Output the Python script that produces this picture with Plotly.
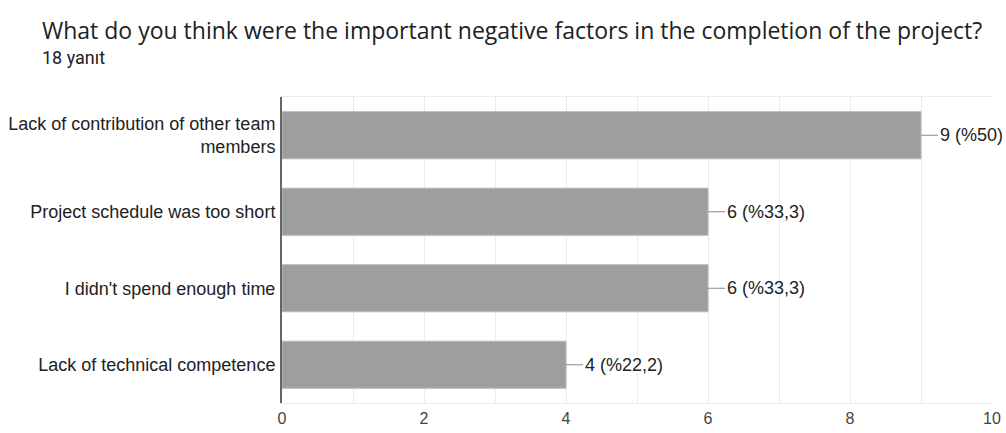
import plotly.graph_objects as go

# Survey answers: count of respondents per factor
categories = [
    "Lack of contribution of other team<br>members",
    "Project schedule was too short",
    "I didn't spend enough time",
    "Lack of technical competence",
]
counts = [9, 6, 6, 4]
value_labels = ["9 (%50)", "6 (%33,3)", "6 (%33,3)", "4 (%22,2)"]
x_ticks = [0, 2, 4, 6, 8, 10]

title_text = "What do you think were the important negative factors in the completion of the project?"
subtitle_text = "18 yanıt"

W, H = 1006, 433
ML, MR, MT, MB = 282, 14, 97, 30
PW, PH = W - ML - MR, H - MT - MB


def px_to_paper(x, y):
    """Convert page pixel position to paper coordinates."""
    return (x - ML) / PW, 1 + (MT - y) / PH


LABEL_FONT = "Liberation Sans, Arial"

fig = go.Figure(
    go.Bar(
        x=counts,
        y=categories,
        orientation="h",
        marker=dict(color="#9e9e9e", line=dict(color="#b8b8b8", width=1)),
        hoverinfo="skip",
    )
)

annotations = []
shapes = []

# Leader line + value text at the end of each bar
for cat, val, lab in zip(categories, counts, value_labels):
    shapes.append(dict(
        type="line", xref="x", yref="y",
        x0=val, x1=val + 0.24, y0=cat, y1=cat,
        line=dict(color="#8a8a8a", width=1),
    ))
    annotations.append(dict(
        x=val, y=cat, xref="x", yref="y",
        text=lab, showarrow=False,
        xanchor="left", yanchor="middle", xshift=17,
        font=dict(family=LABEL_FONT, size=18, color="#222222"),
    ))

tx, ty = px_to_paper(40, 30)
annotations.append(dict(
    x=tx, y=ty, xref="paper", yref="paper",
    text=title_text, showarrow=False,
    xanchor="left", yanchor="middle",
    font=dict(family="Open Sans", size=23, color="#202124"),
))
sx, sy = px_to_paper(40, 57)
annotations.append(dict(
    x=sx, y=sy, xref="paper", yref="paper",
    text=subtitle_text, showarrow=False,
    xanchor="left", yanchor="middle",
    font=dict(family="Roboto", size=18, color="#202124"),
))

fig.update_layout(
    width=W, height=H,
    margin=dict(l=ML, r=MR, t=MT, b=MB),
    paper_bgcolor="white", plot_bgcolor="white",
    showlegend=False,
    bargap=0.385,
    annotations=annotations,
    shapes=shapes,
)

fig.update_xaxes(
    range=[0, 10],
    tickvals=x_ticks,
    ticktext=[str(t) for t in x_ticks],
    showgrid=True, gridcolor="#ebebeb", gridwidth=1,
    minor=dict(dtick=1, showgrid=True, gridcolor="#ebebeb", gridwidth=1),
    zeroline=False,
    showline=True, linecolor="#ebebeb", linewidth=1, mirror=True,
    tickfont=dict(family=LABEL_FONT, size=16, color="#444444"),
    ticks="", ticklabelstandoff=1,
    automargin=False,
    fixedrange=True,
)
fig.update_yaxes(
    categoryorder="array", categoryarray=categories,
    autorange="reversed",
    showgrid=False, zeroline=False,
    showline=True, linecolor="#666666", linewidth=2,
    tickfont=dict(family=LABEL_FONT, size=18, color="#222222"),
    ticks="", ticklabelstandoff=1,
    automargin=False,
    fixedrange=True,
)

fig.write_html("out.html", config={"displayModeBar": False})
